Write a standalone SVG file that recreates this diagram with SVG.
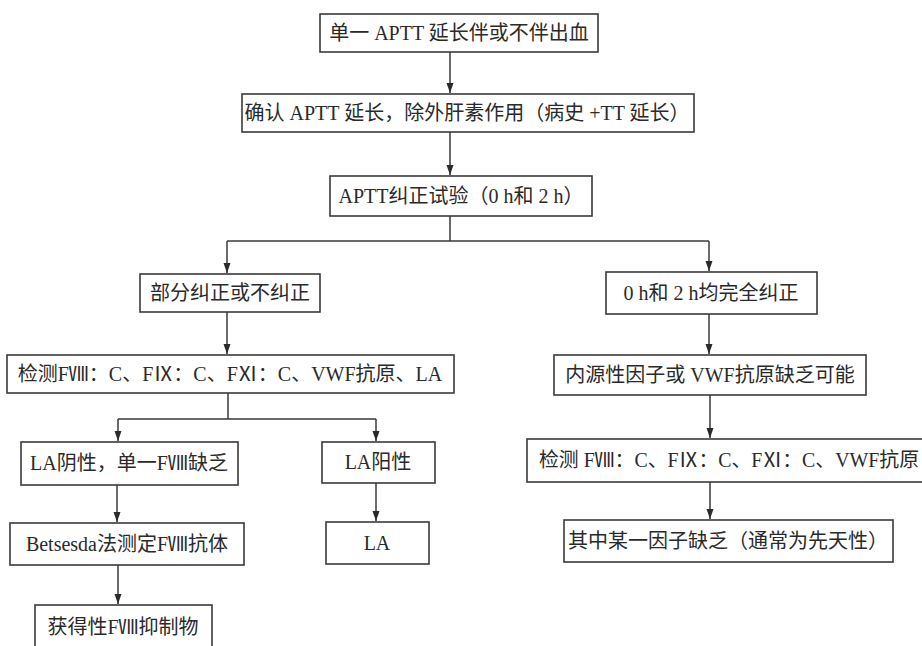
<svg xmlns="http://www.w3.org/2000/svg" width="922" height="646" viewBox="0 0 922 646">
<defs>
<style>
.box{fill:#fff;stroke:#3a3a3a;stroke-width:1.6}
text{font-family:"Liberation Serif","Noto Sans CJK SC",serif;font-size:20px;fill:#2a2a2a;text-anchor:middle}
.c{fill:none;stroke:#3a3a3a;stroke-width:1.5}
</style>
<marker id="ah" viewBox="0 0 10 10" refX="10" refY="5" markerWidth="10" markerHeight="10" markerUnits="userSpaceOnUse" orient="auto">
<path d="M0,1.5 L10,5 L0,8.5 Z" fill="#2a2a2a"/>
</marker>
</defs>
<rect width="922" height="646" fill="#fff"/>
<g id="connectors">
<path class="c" d="M450,52 V93" marker-end="url(#ah)"/>
<path class="c" d="M450,132 V175" marker-end="url(#ah)"/>
<path class="c" d="M450,216 V241 M227,241 H709"/>
<path class="c" d="M227,241 V273" marker-end="url(#ah)"/>
<path class="c" d="M709,241 V271" marker-end="url(#ah)"/>
<path class="c" d="M227,312 V354" marker-end="url(#ah)"/>
<path class="c" d="M709,314 V354" marker-end="url(#ah)"/>
<path class="c" d="M228,393 V419 M118,419 H376"/>
<path class="c" d="M118,419 V441" marker-end="url(#ah)"/>
<path class="c" d="M376,419 V441" marker-end="url(#ah)"/>
<path class="c" d="M117,485 V522" marker-end="url(#ah)"/>
<path class="c" d="M376,483 V521" marker-end="url(#ah)"/>
<path class="c" d="M118,565 V604" marker-end="url(#ah)"/>
<path class="c" d="M710,395 V438" marker-end="url(#ah)"/>
<path class="c" d="M710,482 V519" marker-end="url(#ah)"/>
</g>
<g id="n1"><rect class="box" x="320" y="14" width="278" height="38"/><text x="459" y="40">单一 APTT 延长伴或不伴出血</text></g>
<g id="n2"><rect class="box" x="242" y="94" width="452" height="38"/><text x="467" y="120">确认 APTT 延长，除外肝素作用（病史 +TT 延长）</text></g>
<g id="n3"><rect class="box" x="330" y="176" width="262" height="40"/><text x="461" y="203">APTT纠正试验（0 h和 2 h）</text></g>
<g id="n4"><rect class="box" x="140" y="274" width="180" height="38"/><text x="230" y="300">部分纠正或不纠正</text></g>
<g id="n5"><rect class="box" x="7" y="355" width="447" height="38"/><text x="230" y="381">检测FⅧ：C、FⅨ：C、FⅪ：C、VWF抗原、LA</text></g>
<g id="n6"><rect class="box" x="606" y="272" width="211" height="42"/><text x="711" y="300">0 h和 2 h均完全纠正</text></g>
<g id="n7"><rect class="box" x="554" y="355" width="312" height="40"/><text x="710" y="382">内源性因子或 VWF抗原缺乏可能</text></g>
<g id="n8"><rect class="box" x="527" y="439" width="410" height="43"/><text x="729" y="467" textLength="380" lengthAdjust="spacingAndGlyphs">检测 FⅧ：C、FⅨ：C、FⅪ：C、VWF抗原</text></g>
<g id="n9"><rect class="box" x="564" y="520" width="329" height="42"/><text x="728" y="548">其中某一因子缺乏（通常为先天性）</text></g>
<g id="n10"><rect class="box" x="21" y="442" width="217" height="43"/><text x="129" y="470">LA阴性，单一FⅧ缺乏</text></g>
<g id="n11"><rect class="box" x="322" y="442" width="113" height="41"/><text x="378" y="469">LA阳性</text></g>
<g id="n12"><rect class="box" x="10" y="523" width="234" height="42"/><text x="127" y="551">Betsesda法测定FⅧ抗体</text></g>
<g id="n13"><rect class="box" x="326" y="522" width="103" height="42"/><text x="377" y="550">LA</text></g>
<g id="n14"><rect class="box" x="35" y="605" width="177" height="50"/><text x="123" y="634">获得性FⅧ抑制物</text></g>
</svg>
